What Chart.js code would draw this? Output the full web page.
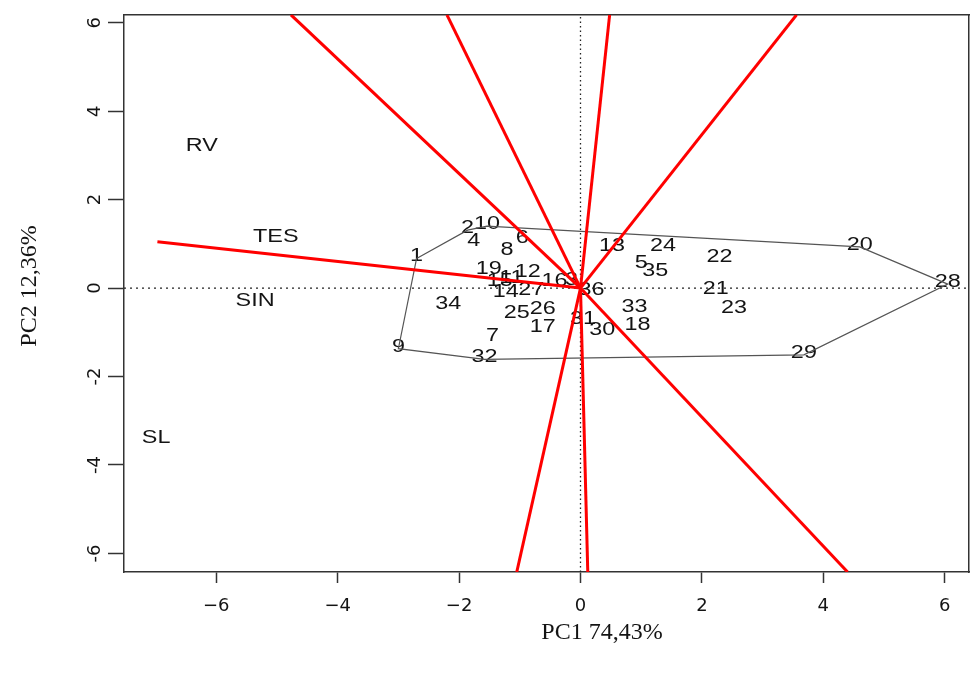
<!DOCTYPE html>
<html>
<head>
<meta charset="utf-8">
<script src="https://cdn.jsdelivr.net/npm/chart.js@4/dist/chart.umd.min.js"></script>
<style>
  html, body { margin: 0; padding: 0; background: #fff; }
  #wrap { width: 970px; height: 673px; }
</style>
</head>
<body>
<div id="wrap"><canvas id="biplot" width="970" height="673"></canvas></div>
<script>
// Observaciones (etiquetas numéricas) en el plano PC1 / PC2
const pointIds = ['1','2','3','4','5','6','7','8','9','10','11','12','13','14','15','16','17','18',
                  '19','20','21','22','23','24','25','26','27','28','29','30','31','32','33','34','35','36'];
const pc1 = [-2.70, -1.86, -0.15, -1.76, 1.00, -0.96, -1.45, -1.21, -3.00, -1.54, -1.14, -0.87,
              0.52, -1.23, -1.33, -0.43, -0.62, 0.94, -1.51, 4.60, 2.23, 2.29, 2.53, 1.36,
             -1.05, -0.62, -0.81, 6.05, 3.68, 0.36, 0.04, -1.58, 0.89, -2.18, 1.23, 0.18];
const pc2 = [ 0.67, 1.31, 0.13, 1.01, 0.52, 1.08, -1.14, 0.81, -1.37, 1.40, 0.18, 0.31,
              0.90, -0.13, 0.11, 0.11, -0.92, -0.87, 0.39, 0.93, -0.07, 0.65, -0.49, 0.91,
             -0.60, -0.52, -0.10, 0.09, -1.51, -0.99, -0.75, -1.61, -0.47, -0.40, 0.35, -0.09];

// Envolvente convexa (ids en orden)
const hullIds = ['1','2','10','20','28','29','32','9','1'];

// Variables
const varNames = ['RV', 'TES', 'SIN', 'SL'];
const varX = [-6.24, -5.02, -5.36, -6.99];
const varY = [ 3.17,  1.12, -0.34, -3.44];

// Extremos de los vectores rojos desde el origen
const loadX = [-6.97, -4.77, -2.20, 0.48, 3.56, 4.40, 0.12, -1.05];
const loadY = [ 1.05,  6.18,  6.18, 6.18, 6.18, -6.42, -6.42, -6.42];

// Ejes
const xMin = -7.52, xMax = 6.40;
const yMin = -6.42, yMax = 6.18;
const xTicks = [-6, -4, -2, 0, 2, 4, 6];
const yTicks = [-6, -4, -2, 0, 2, 4, 6];
const xTitle = 'PC1 74,43%';
const yTitle = 'PC2 12,36%';

const TEXT = '#141414';
const FRAME = '#333';
const STRETCH = 1.3; // el original está estirado en horizontal

const pts = pointIds.map((id, i) => ({ x: pc1[i], y: pc2[i] }));
const hull = hullIds.map(id => pts[pointIds.indexOf(id)]);

const labelPlugin = {
  id: 'labelPlugin',
  beforeDatasetsDraw(chart) {
    const ctx = chart.ctx;
    chart.data.datasets.forEach((ds, di) => {
      if (!ds.textLabels) return;
      const meta = chart.getDatasetMeta(di);
      ctx.save();
      ctx.font = '18px "Liberation Sans", Arial, sans-serif';
      ctx.fillStyle = TEXT;
      ctx.textAlign = 'center';
      ctx.textBaseline = 'middle';
      meta.data.forEach((el, j) => {
        ctx.save();
        ctx.translate(el.x, el.y - 2);
        ctx.scale(STRETCH, 1);
        ctx.fillText(ds.textLabels[j], 0, 0);
        ctx.restore();
      });
      ctx.restore();
    });
  },
  afterDraw(chart) {
    const ctx = chart.ctx;
    ctx.save();
    ctx.fillStyle = TEXT;
    ctx.font = '24px "Liberation Serif", "Times New Roman", serif';
    ctx.textAlign = 'center';
    ctx.textBaseline = 'middle';
    ctx.fillText(xTitle, 602, 633);
    ctx.translate(30, 286);
    ctx.rotate(-Math.PI / 2);
    ctx.fillText(yTitle, 0, 0);
    ctx.restore();
  }
};

const tickFont = { family: '"DejaVu Sans", sans-serif', size: 18 };

new Chart(document.getElementById('biplot'), {
  type: 'scatter',
  data: {
    datasets: [
      ...loadX.map((lx, i) => ({
        data: [{ x: 0, y: 0 }, { x: lx, y: loadY[i] }],
        showLine: true, borderColor: '#ff0000', borderWidth: 3, pointRadius: 0, order: 0,
      })),
      { data: hull, showLine: true, borderColor: '#555', borderWidth: 1.2, pointRadius: 0, order: 1 },
      { data: [{ x: xMin, y: 0 }, { x: xMax, y: 0 }], showLine: true, borderColor: '#222',
        borderWidth: 1.3, borderDash: [2, 4], pointRadius: 0, order: 2 },
      { data: [{ x: 0, y: yMin }, { x: 0, y: yMax }], showLine: true, borderColor: '#222',
        borderWidth: 1.3, borderDash: [1.5, 3], pointRadius: 0, order: 2 },
      { data: pts, pointRadius: 0, textLabels: pointIds, order: 3 },
      { data: varNames.map((n, i) => ({ x: varX[i], y: varY[i] })), pointRadius: 0, textLabels: varNames, order: 3 },
    ],
  },
  options: {
    responsive: false,
    animation: false,
    devicePixelRatio: 1,
    layout: { padding: { top: 9, right: 1, left: 0, bottom: 0 } },
    plugins: { legend: { display: false }, tooltip: { enabled: false } },
    scales: {
      x: {
        type: 'linear', position: 'bottom', min: xMin, max: xMax,
        afterBuildTicks: s => { s.ticks = xTicks.map(v => ({ value: v })); },
        afterFit: s => { s.height = 101; },
        ticks: { font: tickFont, color: TEXT, padding: 13, maxRotation: 0,
                 callback: v => (v < 0 ? '\u2212' + (-v) : String(v)) },
        grid: { drawOnChartArea: false, drawTicks: true, tickLength: 11, color: FRAME, tickWidth: 1.5 },
        border: { display: true, color: FRAME, width: 1.5 },
      },
      y: {
        type: 'linear', position: 'left', min: yMin, max: yMax,
        afterBuildTicks: s => { s.ticks = yTicks.map(v => ({ value: v })); },
        afterFit: s => { s.width = 124; },
        ticks: { font: tickFont, color: TEXT, padding: 4, minRotation: 90, maxRotation: 90, crossAlign: 'center',
                 callback: v => String(v) },
        grid: { drawOnChartArea: false, drawTicks: true, tickLength: 16, color: FRAME, tickWidth: 1.5 },
        border: { display: true, color: FRAME, width: 1.5 },
      },
      xTop: {
        type: 'linear', position: 'top', min: xMin, max: xMax,
        afterFit: s => { s.height = 0; },
        ticks: { display: false }, grid: { display: false },
        border: { display: true, color: FRAME, width: 1.5 },
      },
      yRight: {
        type: 'linear', position: 'right', min: yMin, max: yMax,
        afterFit: s => { s.width = 0; },
        ticks: { display: false }, grid: { display: false },
        border: { display: true, color: FRAME, width: 1.5 },
      },
    },
  },
  plugins: [labelPlugin],
});
</script>
</body>
</html>
